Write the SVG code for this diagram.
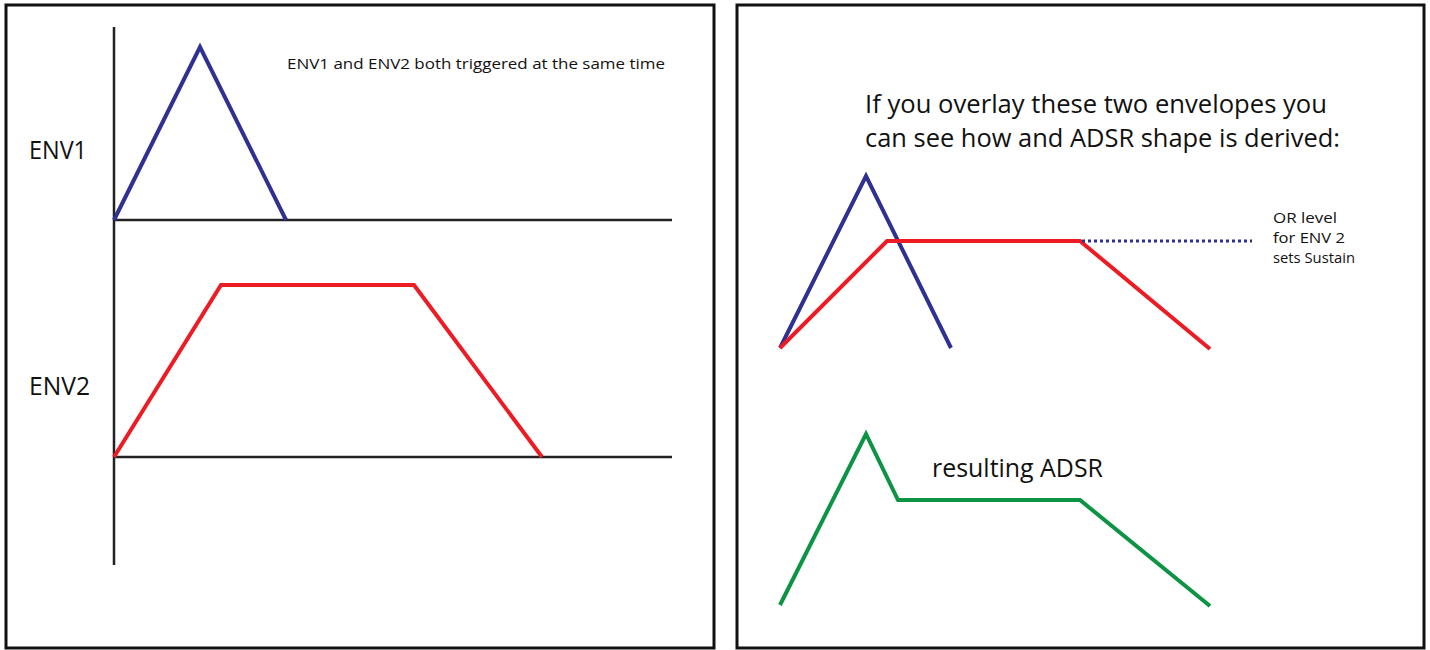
<svg xmlns="http://www.w3.org/2000/svg" width="1430" height="650" viewBox="0 0 1430 650">
<style>
.panel{fill:#fff;stroke:#111;stroke-width:3}
.axis{fill:none;stroke:#222;stroke-width:2.5}
.env{fill:none;stroke-width:4;stroke-linejoin:miter;stroke-linecap:butt}
.blue{stroke:#2e3192}
.red{stroke:#ed1c24}
.green{stroke:#0c9444}
.dots{fill:none;stroke:#2e3192;stroke-width:3;stroke-dasharray:3 3}
text{font-family:"Open Sans",Lato,"Liberation Sans",sans-serif;fill:#111}
</style>
<rect width="1430" height="650" fill="#fff"/>
<g id="left-panel">
<rect class="panel" x="6" y="5" width="708" height="643"/>
<line class="axis" x1="114" y1="27" x2="114" y2="565"/>
<line class="axis" x1="114" y1="220" x2="672" y2="220"/>
<line class="axis" x1="114" y1="457" x2="672" y2="457"/>
</g>
<g id="env1">
<polyline class="env blue" points="114,220 200,47 286,220"/>
<text x="29" y="159" font-size="25" textLength="58" lengthAdjust="spacingAndGlyphs">ENV1</text>
</g>
<g id="env2">
<polyline class="env red" points="114,457 221,285 414,285 542,457"/>
<text x="29" y="395" font-size="25" textLength="61" lengthAdjust="spacingAndGlyphs">ENV2</text>
</g>
<g id="note">
<text x="287" y="69" font-size="15" textLength="378" lengthAdjust="spacingAndGlyphs">ENV1 and ENV2 both triggered at the same time</text>
</g>
<g id="right-panel">
<rect class="panel" x="737" y="5" width="687" height="643"/>
<text x="865" y="113" font-size="26" textLength="462" lengthAdjust="spacingAndGlyphs">If you overlay these two envelopes you</text>
<text x="865" y="147" font-size="26" textLength="475" lengthAdjust="spacingAndGlyphs">can see how and ADSR shape is derived:</text>
</g>
<g id="overlay">
<polyline class="env blue" points="780,348 866,176 951,348"/>
<polyline class="env red" points="780,348 887,241 1080,241 1210,349"/>
</g>
<g id="connectors">
<line class="dots" x1="1082" y1="241" x2="1252" y2="241"/>
</g>
<g id="sustain-label">
<text x="1273" y="223" font-size="15" textLength="64" lengthAdjust="spacingAndGlyphs">OR level</text>
<text x="1273" y="243" font-size="15" textLength="72" lengthAdjust="spacingAndGlyphs">for ENV 2</text>
<text x="1273" y="263" font-size="15" textLength="82" lengthAdjust="spacingAndGlyphs">sets Sustain</text>
</g>
<g id="adsr">
<polyline class="env green" points="780,605 866,434 898,500 1080,500 1210,606"/>
<text x="932" y="477" font-size="25" textLength="171" lengthAdjust="spacingAndGlyphs">resulting ADSR</text>
</g>
</svg>
